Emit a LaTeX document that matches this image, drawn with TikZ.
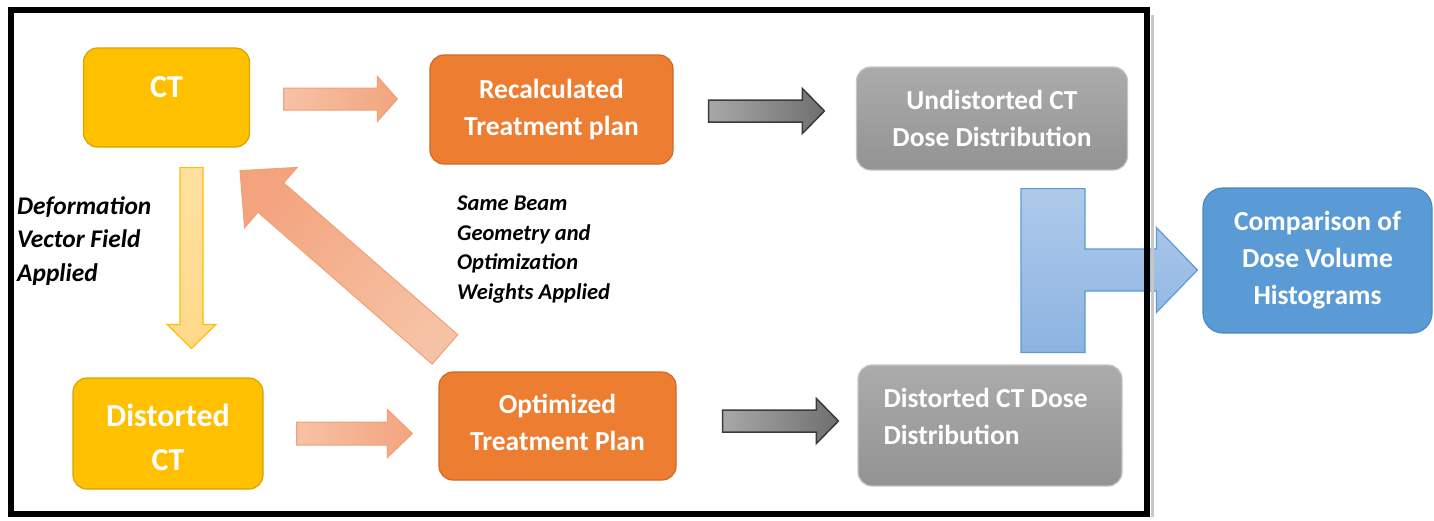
\documentclass[tikz,border=0pt]{standalone}
\usepackage{fontspec}
\setmainfont{Carlito}
\usetikzlibrary{calc}

\definecolor{ctyellow}{HTML}{FFC000}
\definecolor{ctyellowline}{HTML}{D9A400}
\definecolor{planorange}{HTML}{ED7D31}
\definecolor{planorangeline}{HTML}{CC6A29}
\definecolor{dosegraytop}{HTML}{ABABAB}
\definecolor{dosegraybot}{HTML}{939393}
\definecolor{dosegrayline}{HTML}{C4C4C4}
\definecolor{dvhblue}{HTML}{5B9BD5}
\definecolor{dvhblueline}{HTML}{4A89C4}
\definecolor{peachL}{HTML}{F6C2A5}
\definecolor{peachR}{HTML}{F3A47E}
\definecolor{peachline}{HTML}{F2A074}
\definecolor{paleyellow}{HTML}{FFD98A}
\definecolor{arrowgrayL}{HTML}{A8A8A8}
\definecolor{arrowgrayR}{HTML}{6F6F6F}
\definecolor{arrowgrayline}{HTML}{3B3B3B}
\definecolor{mergeblueT}{HTML}{AECAEA}
\definecolor{mergeblueB}{HTML}{8CB3E1}

\tikzset{
  box/.style={rounded corners=14pt, line width=1.2pt, inner sep=0pt},
  ctbox/.style={box, fill=ctyellow, draw=ctyellowline},
  planbox/.style={box, fill=planorange, draw=planorangeline},
  dosebox/.style={box, top color=dosegraytop, bottom color=dosegraybot, draw=dosegrayline},
  dvhbox/.style={box, rounded corners=20pt, fill=dvhblue, draw=dvhblueline},
  boxtext/.style={text=white, font=\bfseries\fontsize{27.5}{37}\selectfont, align=center, inner sep=0pt},
  bigtext/.style={boxtext, font=\bfseries\fontsize{32}{44}\selectfont},
  note/.style={font=\bfseries\itshape\fontsize{22.5}{29.5}\selectfont, align=left, inner sep=0pt, anchor=north west},
  peacharrow/.style={left color=peachL, right color=peachR, draw=peachline, line width=1pt},
  grayarrow/.style={left color=arrowgrayL, right color=arrowgrayR, draw=arrowgrayline, line width=1.5pt},
  yellowarrow/.style={fill=paleyellow, draw=ctyellow, line width=1.2pt},
  backarrow/.style={top color=peachR, bottom color=peachL, shading angle=48.7, draw=peachline, line width=1pt},
  mergearrow/.style={top color=mergeblueT, bottom color=mergeblueB, draw=dvhblue, line width=1.2pt},
}

% block arrow: #1 style, #2 tail, #3 tip, #4 shaft half width, #5 head half width, #6 head length
\newcommand\blockarrow[6]{%
  \path ($(#3)!#6!(#2)$) coordinate (hb);
  \draw[#1] ($(#2)!#4!90:(#3)$) -- ($(hb)!#4!90:(#3)$) -- ($(hb)!#5!90:(#3)$) -- (#3)
    -- ($(hb)!#5!-90:(#3)$) -- ($(hb)!#4!-90:(#3)$) -- ($(#2)!#4!-90:(#3)$) -- cycle;}

\begin{document}
\begin{tikzpicture}[x=1pt, y=-1pt]
\useasboundingbox (0,0) rectangle (1434,520);
\fill[white] (0,0) rectangle (1434,520);

% boxes
\node[ctbox, minimum width=166pt, minimum height=99pt] (ct) at (166.5,97.5) {};
\node[planbox, minimum width=243pt, minimum height=109pt] (recalc) at (551.5,109.5) {};
\node[dosebox, minimum width=271pt, minimum height=103pt] (undist) at (992,118.5) {};
\node[dvhbox, minimum width=229pt, minimum height=145pt] (cmp) at (1317.5,260.5) {};
\node[ctbox, minimum width=190pt, minimum height=111pt] (dct) at (168,433.5) {};
\node[planbox, minimum width=237pt, minimum height=108pt] (opt) at (557.5,426) {};
\node[dosebox, minimum width=264pt, minimum height=121pt] (ddose) at (990,425.5) {};

% box labels
\node[bigtext] (ct-t) at ($(ct.center)+(0,-10.2)$) {CT};
\node[boxtext] (recalc-t) at (recalc.center) {Recalculated\\Treatment plan};
\node[boxtext] (undist-t) at (undist.center) {Undistorted CT\\Dose Distribution};
\node[boxtext] (cmp-t) at (cmp.center) {Comparison of\\Dose Volume\\Histograms};
\node[bigtext] (dct-t) at ($(dct.center)+(0,4)$) {Distorted\\CT};
\node[boxtext] (opt-t) at ($(opt.center)+(0,-4)$) {Optimized\\Treatment Plan};
\node[boxtext, align=left, anchor=west] (ddose-t) at ($(ddose.west)+(26,-9)$) {Distorted CT Dose\\Distribution};

% side notes
\node[note, font=\bfseries\itshape\fontsize{25.4}{33.5}\selectfont] (dvf) at (17,196) {Deformation\\Vector Field\\Applied};
\node[note] (beam) at (457,196) {Same Beam\\Geometry and\\Optimization\\Weights Applied};

% arrow end points
\coordinate (a1s) at ($(ct.east)+(33.5,1.5)$);
\coordinate (a1e) at ($(recalc.west |- a1s)+(-32,0)$);
\coordinate (a2s) at ($(recalc.east)+(35,1.5)$);
\coordinate (a2e) at ($(undist.west |- a2s)+(-31.5,0)$);
\coordinate (a3s) at ($(ct.south)+(25,20)$);
\coordinate (a3e) at ($(a3s |- dct.north)+(0,-29)$);
\coordinate (a4s) at ($(dct.east)+(33,0)$);
\coordinate (a4e) at ($(opt.west |- a4s)+(-26,0)$);
\coordinate (a5s) at ($(opt.east)+(46,-5)$);
\coordinate (a5e) at ($(ddose.west |- a5s)+(-19,0)$);
\coordinate (a6s) at ($(opt.north)+(-112.5,-22)$);
\coordinate (a6e) at ($(ct.south)+(73.5,23)$);

\blockarrow{peacharrow}{a1s}{a1e}{11pt}{22.5pt}{20pt}
\blockarrow{grayarrow}{a2s}{a2e}{11pt}{22.5pt}{22pt}
\blockarrow{yellowarrow, top color=paleyellow!80!white, bottom color=paleyellow}{a3s}{a3e}{11.5pt}{24.5pt}{24pt}
\blockarrow{peacharrow}{a4s}{a4e}{11.5pt}{24pt}{25pt}
\blockarrow{grayarrow}{a5s}{a5e}{11pt}{22.5pt}{22pt}
\blockarrow{backarrow}{a6s}{a6e}{19.5pt}{40pt}{41pt}

% merging arrow from both dose distributions to the DVH comparison
\coordinate (m-top) at ($(undist.south)+(61,18)$);
\coordinate (m-bot) at ($(ddose.north -| m-top)+(0,-12)$);
\coordinate (m-tip) at ($(cmp.west)+(-5,9.5)$);
\draw[mergearrow] let \p1=(m-top), \p2=(m-bot), \p3=(m-tip) in
  (\x1-32pt,\y1) -- (\x1+32pt,\y1) -- (\x1+32pt,\y3+21pt) -- (\x3-41pt,\y3+21pt)
  -- (\x3-41pt,\y3+42.5pt) -- (\x3,\y3) -- (\x3-41pt,\y3-42.5pt) -- (\x3-41pt,\y3-21pt)
  -- (\x1+32pt,\y3-21pt) -- (\x1+32pt,\y2) -- (\x1-32pt,\y2) -- cycle;

% frame
\draw[line width=3pt, black!22] (1152,15) -- (1152,517);
\draw[line width=6pt] (11,10) rectangle (1147,513.5);
\end{tikzpicture}
\end{document}
